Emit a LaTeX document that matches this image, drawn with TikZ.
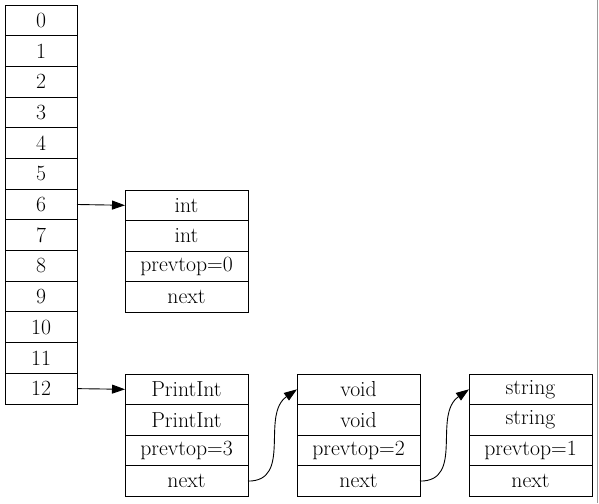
\documentclass[tikz,border=0pt]{standalone}
\usetikzlibrary{arrows.meta,positioning}
\tikzstyle{cell}=[draw,minimum width=72pt,minimum height=30.69pt,inner sep=0pt,outer sep=0pt]
\tikzstyle{field}=[draw,minimum width=123pt,minimum height=30.6pt,inner sep=0pt,outer sep=0pt]
\tikzstyle{edge} = [draw,-{Triangle[length=13pt,width=9pt]}]

\begin{document}
\begin{tikzpicture}[x=1pt,y=-1pt,line width=0.9pt,font=\fontsize{21.7}{26}\selectfont]
    \useasboundingbox (0,0) rectangle (599,503);
    % stack slots on the left
    \foreach \i in {0,...,12}
        \node[cell] (c\i) at (41,{20.35+30.69*\i}) {\i};
    % the records, four fields each
    \foreach \name/\x/\y/\t/\n in {a/186.5/190/int/0, p/186.5/374/PrintInt/3,
                                   v/358.5/374/void/2, s/530.5/374/string/1} {
        \node[field] (\name1) at (\x,{\y+15.3}) {\t};
        \node[field, below=0pt of \name1] (\name2) {\t};
        \node[field, below=0pt of \name2] (\name3) {prevtop=\n};
        \node[field, below=0pt of \name3] (\name4) {next};
    }
    % pointers
    \path[edge] (c6.east) -- (a1.west);
    \path[edge] (c12.east) -- (p1.west);
    \path[edge] (p4.east) to[out=0,in=215,looseness=1.1] (v1.west);
    \path[edge] (v4.east) to[out=0,in=215,looseness=1.1] (s1.west);

    \draw[black!40,line width=1.5pt] (597.5,0) -- (597.5,503);
\end{tikzpicture}
\end{document}
